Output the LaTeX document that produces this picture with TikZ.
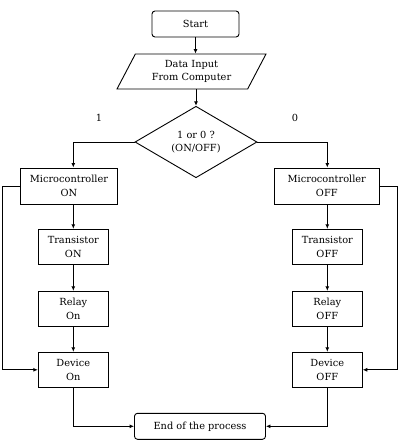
\documentclass[tikz,border=0pt]{standalone}
\usepackage{fontspec}
\setmainfont{DejaVu Serif}
\usetikzlibrary{positioning,arrows.meta,shapes.geometric}

\begin{document}
\begin{tikzpicture}[x=1pt,y=-1pt,line width=0.9pt,
    every node/.style={font=\fontsize{9.8}{13.5}\selectfont,align=center,inner sep=0pt},
    box/.style={draw,minimum width=70pt,minimum height=35pt},
    term/.style={draw,rounded corners=3pt,minimum height=26pt},
    flow/.style={-{Latex[length=4.5pt,width=4pt]}}]
    \useasboundingbox (0,0) rectangle (404,444);
    % top part
    \node[term,minimum width=87pt] (start) at (195.5,24) {Start};
    \node[draw,trapezium,trapezium left angle=51,trapezium right angle=129,
          trapezium stretches body,minimum width=149pt,minimum height=35pt] (input) at (191.5,71.5)
          {Data Input\\From Computer};
    \node[draw,diamond,minimum width=122pt,minimum height=71pt] (dec) at (196,142)
          {1 or 0 ?\\(ON/OFF)};
    \node (one) at (99,118) {1};
    \node (zero) at (295,118) {0};
    % left branch
    \node[box,minimum width=97pt,minimum height=36pt] (mcOn) at (69,186) {Microcontroller\\ON};
    \node[box] (trOn) at (73.3,246.8) {Transistor\\ON};
    \node[box] (relOn) at (73.3,308.8) {Relay\\On};
    \node[box] (devOn) at (73.3,369.8) {Device\\On};
    % right branch
    \node[box,minimum width=105pt,minimum height=36pt] (mcOff) at (326.8,186) {Microcontroller\\OFF};
    \node[box] (trOff) at (327.3,246.8) {Transistor\\OFF};
    \node[box] (relOff) at (327.3,308.8) {Relay\\OFF};
    \node[box] (devOff) at (327.3,369.8) {Device\\OFF};
    \node[term,minimum width=131pt] (end) at (200,426.3) {End of the process};
    % connectors
    \draw[flow] (start.south) -- (start.south |- input.north);
    \draw[flow] (dec.north |- input.south) -- (dec.north);
    \draw[flow] (dec.west) -| (trOn.north |- mcOn.north);
    \draw[flow] (dec.east) -| (trOff.north |- mcOff.north);
    \draw[flow] (trOn.north |- mcOn.south) -- (trOn.north);
    \draw[flow] (trOn) -- (relOn);
    \draw[flow] (relOn) -- (devOn);
    \draw[flow] (trOff.north |- mcOff.south) -- (trOff.north);
    \draw[flow] (trOff) -- (relOff);
    \draw[flow] (relOff) -- (devOff);
    \draw[flow] (mcOn.west) -- ++(-17.4,0) |- (devOn.west);
    \draw[flow] (mcOff.east) -- ++(18,0) |- (devOff.east);
    \draw[flow] (devOn.south) |- (end.west);
    \draw[flow] (devOff.south) |- (end.east);
\end{tikzpicture}
\end{document}
